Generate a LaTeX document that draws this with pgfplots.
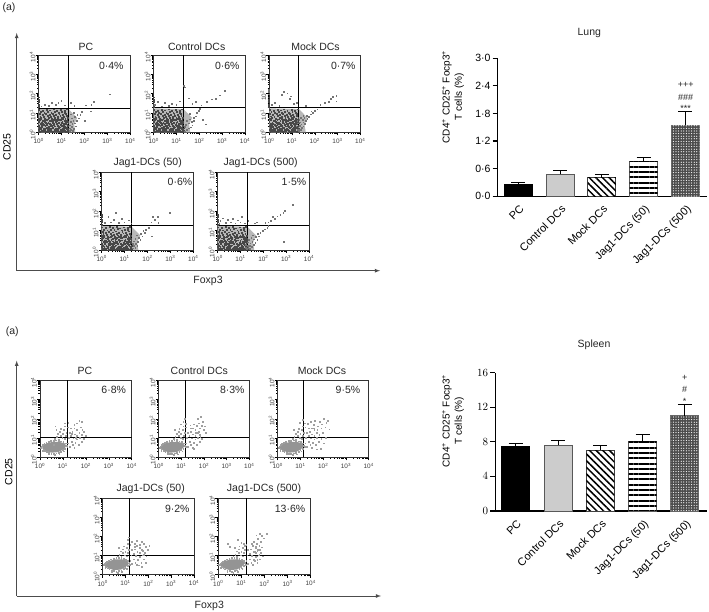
\documentclass[border=0pt]{standalone}
\usepackage{fontspec}
\setmainfont{Liberation Sans}
\usepackage{pgfplots}
\usepackage{pgfplotstable}
\pgfplotsset{compat=1.18}
\usetikzlibrary{patterns.meta}
% ---- shared dense region of the lung plots (log10 units)
\pgfplotstableread[row sep=\\]{
x y\\
.05 .03\\.18 .06\\.33 .01\\.47 .05\\.61 .02\\.74 .07\\.92 .03\\1.05 .06\\1.21 .02\\1.33 .05\\
.02 .14\\.12 .1\\.26 .15\\.4 .11\\.55 .16\\.69 .1\\.83 .14\\.98 .12\\1.12 .15\\1.27 .1\\
.07 .22\\.21 .19\\.35 .24\\.5 .2\\.63 .23\\.8 .18\\.94 .25\\1.08 .21\\1.19 .24\\1.31 .2\\
.03 .31\\.16 .28\\.3 .33\\.44 .29\\.58 .34\\.72 .3\\.88 .27\\1.01 .32\\1.15 .29\\1.29 .34\\
.09 .42\\.24 .39\\.38 .44\\.52 .38\\.67 .43\\.78 .41\\.96 .37\\1.1 .44\\1.23 .4\\
.01 .52\\.14 .48\\.28 .54\\.43 .5\\.6 .47\\.75 .53\\.9 .49\\1.04 .54\\1.18 .5\\1.3 .47\\
.06 .63\\.2 .59\\.36 .64\\.49 .58\\.65 .62\\.82 .6\\.97 .65\\1.13 .58\\1.26 .63\\
.02 .7\\.11 .74\\.29 .69\\.46 .73\\.57 .68\\.71 .75\\.86 .7\\1 .74\\1.17 .69\\1.28 .73\\
.08 .82\\.23 .79\\.39 .84\\.54 .78\\.68 .83\\.84 .8\\.95 .85\\1.09 .79\\1.22 .83\\
.04 .93\\.17 .89\\.33 .94\\.48 .9\\.62 .95\\.77 .88\\.91 .93\\1.06 .89\\1.2 .95\\
.1 1.04\\.25 1\\.41 1.05\\.56 1.01\\.7 1.06\\.87 1\\1.02 1.05\\1.16 1.01\\
.03 1.16\\.19 1.12\\.37 1.17\\.51 1.13\\.66 1.18\\.8 1.11\\.99 1.16\\1.14 1.12\\1.25 1.18\\
.12 .05\\.26 .08\\.4 .03\\.54 .07\\.68 .04\\.85 .06\\1 .02\\1.14 .07\\1.27 .03\\
.1 .18\\.3 .2\\.46 .17\\.6 .21\\.76 .16\\.9 .2\\1.04 .17\\1.24 .18\\
.13 .34\\.36 .35\\.52 .33\\.68 .36\\.84 .32\\.99 .35\\1.12 .34\\1.26 .28\\
.18 .45\\.33 .47\\.48 .44\\.62 .54\\.82 .45\\1 .46\\1.14 .4\\1.27 .55\\
.1 .66\\.27 .62\\.42 .66\\.58 .6\\.74 .65\\.9 .63\\1.05 .67\\1.2 .6\\
0 1.3\\0 1.42\\0 1.55\\0 1.68\\0 1.8\\
}\coreA
\pgfplotstableread[row sep=\\]{
x y\\
1.36 .05\\1.42 .12\\1.5 .08\\1.38 .2\\1.46 .27\\1.55 .18\\1.62 .3\\1.37 .35\\1.48 .42\\1.6 .46\\1.41 .55\\1.52 .6\\1.68 .58\\1.75 .72\\1.45 .72\\1.6 .8\\1.7 .9\\1.82 .88\\1.4 .92\\1.55 1\\1.9 1.05\\
.12 1.33\\.27 1.42\\.45 1.36\\.58 1.5\\.74 1.4\\.86 1.52\\1 1.62\\1.16 1.38\\1.42 1.5\\1.56 1.35\\2.02 .6\\2.28 1.08\\2.3 1.4\\2.4 1.55\\3.1 1.95\\2.05 1.38\\
}\pPC
\pgfplotstableread[row sep=\\]{
x y\\
1.36 .04\\1.45 .11\\1.55 .2\\1.38 .28\\1.62 .25\\1.7 .35\\1.42 .38\\1.55 .45\\1.68 .52\\1.78 .6\\1.45 .6\\1.6 .66\\1.75 .75\\1.86 .82\\1.9 1\\1.98 1.1\\1.6 .95\\2.3 .4\\2.15 .62\\2.02 1.2\\
.05 1.42\\.2 1.55\\.35 1.33\\.5 1.52\\.66 1.36\\.8 1.48\\1 1.42\\1.16 1.6\\1.33 2.4\\1.38 2.32\\1.55 1.75\\1.7 1.45\\1.85 1.55\\2.1 1.38\\2.35 1.58\\2.55 1.7\\2.72 1.72\\2.9 1.9\\3.12 2.15\\
}\pCtrl
\pgfplotstableread[row sep=\\]{
x y\\
1.3 .05\\1.34 .15\\1.25 .1\\1.28 .25\\1.36 .32\\1.2 .3\\1.4 .12\\1.45 .22\\1.5 .3\\1.42 .4\\1.36 .5\\1.5 .5\\1.58 .42\\1.6 .6\\1.48 .62\\1.68 .68\\1.55 .74\\1.75 .8\\1.65 .86\\1.82 .92\\1.92 1\\1.85 1.08\\2 1.12\\2.12 1.18\\1.25 .45\\1.33 .65\\1.24 .6\\1.4 .75\\1.5 .86\\
0 1.95\\0 2.1\\0 2.2\\.12 1.4\\.25 1.52\\.45 1.35\\.55 1.92\\.66 2.1\\.8 2\\.9 1.72\\.95 1.85\\1.1 1.45\\1.22 1.5\\1.6 1.36\\2.25 1.4\\2.45 1.52\\2.62 1.58\\2.72 1.72\\2.8 1.82\\2.95 1.88\\2.95 1.6\\
}\pMock
\pgfplotstableread[row sep=\\]{
x y\\
1.36 .08\\1.42 .2\\1.48 .12\\1.38 .32\\1.5 .3\\1.56 .22\\1.42 .44\\1.58 .42\\1.7 .5\\1.48 .58\\1.62 .62\\1.78 .7\\1.55 .74\\1.72 .82\\1.88 .86\\1.82 .98\\1.95 1.02\\2.06 1.12\\2.2 .7\\
.15 1.4\\.3 1.7\\.4 1.42\\.55 1.55\\.62 1.9\\.75 1.38\\.9 1.6\\1 1.42\\1.18 1.52\\1.3 1.36\\2.18 1.42\\2.25 1.7\\2.32 1.55\\2.45 1.68\\2.48 1.4\\2.98 1.9\\
}\pJa
\pgfplotstableread[row sep=\\]{
x y\\
1.28 .04\\1.35 .1\\1.24 .12\\1.42 .06\\1.32 .2\\1.25 .26\\1.4 .22\\1.5 .14\\1.58 .25\\1.44 .34\\1.32 .38\\1.52 .42\\1.66 .36\\1.38 .5\\1.6 .54\\1.74 .52\\1.48 .62\\1.68 .66\\1.8 .7\\1.55 .74\\1.75 .84\\1.88 .86\\1.98 .96\\2.08 1.05\\2.18 1.12\\2.22 1.22\\2.9 .42\\
.08 1.34\\.12 1.5\\.22 1.62\\.35 1.38\\.46 1.55\\.58 1.42\\.68 1.6\\.78 1.36\\.88 1.52\\1 1.42\\1.08 1.68\\1.2 1.36\\1.35 1.5\\1.62 1.36\\1.72 1.42\\2.1 1.38\\2.22 1.42\\2.32 1.5\\2.42 1.68\\2.5 1.58\\2.62 1.72\\2.75 1.8\\2.88 1.9\\2.95 2\\3.3 2.3\\
}\pJb
% ---- shared dense region of the spleen plots
\pgfplotstableread[row sep=\\]{
x y\\
.06 .48\\.1 .56\\.16 .4\\.14 .62\\.22 .32\\.2 .68\\.3 .27\\.28 .74\\.4 .22\\.38 .8\\.5 .18\\.48 .84\\.6 .16\\.6 .86\\.72 .2\\.7 .87\\.82 .22\\.82 .83\\.92 .28\\.92 .82\\1 .36\\1.02 .78\\1.1 .44\\1.12 .72\\1.17 .6\\1.2 .52\\.03 .5\\.4 .14\\.66 .1\\.85 .15\\1.05 .3\\.12 .34\\
.66 .95\\.74 1.05\\.82 .92\\.9 1.12\\.98 1\\.8 1.22\\.88 1.32\\1 1.2\\1.08 .95\\1.12 1.12\\.92 1.48\\1.06 1.4\\1.16 1.28\\1.22 1.55\\.72 1.4\\1.1 1.6\\
1.22 .72\\1.3 .55\\1.38 .8\\1.44 .62\\1.5 .5\\1.26 1\\1.36 1.1\\1.46 .98\\1.55 .75\\1.62 .92\\1.7 .62\\1.3 1.28\\1.42 1.32\\1.52 1.18\\1.62 1.12\\1.74 1\\1.82 .8\\1.5 1.5\\1.62 1.4\\1.72 1.28\\1.84 1.15\\1.92 .95\\
}\coreB
\pgfplotstableread[row sep=\\]{
x y\\
1.35 1.5\\1.5 1.68\\1.62 1.75\\1.78 1.55\\1.85 1.42\\1.72 1.9\\1.84 1.85\\1.92 1.3\\2 1.12\\.6 .62\\1.4 1.22\\1.58 1.02\\.68 1.6\\1.24 1.8\\1.1 1.75\\
}\sPC
\pgfplotstableread[row sep=\\]{
x y\\
1.1 1.85\\1 1.7\\1.22 1.72\\1.15 2\\1.4 1.65\\1.55 1.7\\1.68 1.62\\1.78 1.75\\1.82 1.5\\1.9 1.62\\1.95 1.85\\2 1.4\\2.05 1.6\\1.88 2.1\\1.72 2\\2.1 1.25\\1.85 1.05\\1.55 .42\\1.42 1.5\\1.64 1.25\\1.78 1.32\\
}\sCtrl
\pgfplotstableread[row sep=\\]{
x y\\
.98 1.8\\1.1 1.95\\1.2 1.75\\1.32 1.72\\1.45 1.85\\1.58 1.68\\1.65 1.9\\1.78 1.6\\1.85 1.82\\1.95 1.7\\2.02 2\\2.1 1.55\\2.15 1.8\\2.2 1.9\\2.28 1.45\\2 1.25\\2.12 1.02\\2.05 .72\\1.9 .45\\1.72 .4\\1.38 1.5\\1.6 1.5\\1.75 1.4\\1.92 1.5\\
}\sMock
\pgfplotstableread[row sep=\\]{
x y\\
1.1 1.82\\1.3 1.7\\1.42 1.62\\1.5 1.78\\1.62 1.55\\1.72 1.72\\1.82 1.6\\1.9 1.45\\2 1.3\\1.78 1.25\\1.6 .48\\1.72 .42\\1.9 .6\\1.15 1.95\\1.82 1.05\\2.05 1.5\\1.4 1.45\\
}\sJa
\pgfplotstableread[row sep=\\]{
x y\\
.42 1.6\\.5 1.45\\.85 1.8\\1 1.65\\1.15 1.5\\1.45 1.62\\1.55 1.72\\1.62 1.45\\1.68 1.6\\1.72 1.85\\1.78 1.52\\1.85 1.72\\1.65 2.05\\1.8 2.12\\1.9 2.02\\1.98 1.9\\2.1 2.15\\1.7 1.25\\1.8 1.3\\1.88 1.42\\1.58 1.18\\1.68 .95\\1.58 .72\\1.7 .75\\1.78 1.05\\
}\sJb
\pgfplotsset{
 flow/.style={
  scale only axis,anchor=south west,xmin=0,xmax=4,ymin=0,ymax=4,
  xtick={0,1,2,3,4},ytick={0,1,2,3,4},
  xticklabels={10\textsuperscript{0},10\textsuperscript{1},10\textsuperscript{2},10\textsuperscript{3},10\textsuperscript{4}},
  yticklabels={10\textsuperscript{0},10\textsuperscript{1},10\textsuperscript{2},10\textsuperscript{3},10\textsuperscript{4}},
  minor xtick={.301,.477,.602,.699,.778,.845,.903,.954,1.301,1.477,1.602,1.699,1.778,1.845,1.903,1.954,2.301,2.477,2.602,2.699,2.778,2.845,2.903,2.954,3.301,3.477,3.602,3.699,3.778,3.845,3.903,3.954},
  minor ytick={.301,.477,.602,.699,.778,.845,.903,.954,1.301,1.477,1.602,1.699,1.778,1.845,1.903,1.954,2.301,2.477,2.602,2.699,2.778,2.845,2.903,2.954,3.301,3.477,3.602,3.699,3.778,3.845,3.903,3.954},
  tick pos=left,tick align=outside,major tick length=3pt,minor tick length=1.6pt,
  every tick/.style={black,line width=.5pt},
  tick label style={font=\fontsize{6.4}{7}\selectfont,text=black!75,inner sep=0pt},
  xticklabel style={yshift=-2.5pt},
  yticklabel style={rotate=90,anchor=south,xshift=-2pt},
  axis line style={black!80,line width=.9pt},
  clip=true},
 lungdot/.style={only marks,mark=square*,mark size=.42pt,mark options={draw=black!72,fill=black!72,line width=0pt}},
 lungfine/.style={only marks,mark=square*,mark size=.36pt,mark options={draw=black!55,fill=black!55,line width=0pt}},
 spldot/.style={only marks,mark=square*,mark size=.38pt,mark options={draw=black!38,fill=black!38,line width=0pt}},
 bchart/.style={scale only axis,anchor=south west,clip=false,axis x line*=bottom,axis y line*=left,
  ymin=0,xtick={0,1,2,3,4},
  xticklabels={PC,Control DCs,Mock DCs,Jag1-DCs (50),Jag1-DCs (500)},
  xticklabel style={rotate=45,anchor=north east,font=\fontsize{11}{12}\selectfont,inner sep=1.5pt,yshift=-1pt},
  yticklabel style={font=\fontsize{10.5}{12}\selectfont,inner sep=2pt},
  axis line style={black,line width=1.5pt,-},
  xtick style={draw=none},ytick style={black,line width=1.2pt},major tick length=5pt,tick align=outside},
 bb/.style={ybar,bar shift=0pt,bar width=28pt,line width=.9pt},
 eb/.style={error bars/.cd,y dir=plus,y explicit,error bar style={black,line width=1pt},
  error mark options={rotate=90,black,mark size=7pt,line width=1pt}},
}
\newcommand\Lbl[4][\fontsize{10.5}{12}\selectfont]{\pgfmathsetmacro\yy{612-#3}\node[font=#1,text=black!85,inner sep=0pt] at (#2pt,\yy pt){#4};}
% xleft ytop width height vgate hgate plots
\newcommand\Flow[7]{\pgfmathsetmacro\yb{612-#2-#4}
 \begin{axis}[flow,at={(#1pt,\yb pt)},width=#3pt,height=#4pt]
 #7
 \addplot[black,line width=.9pt] coordinates {(#5,0) (#5,4)};
 \addplot[black,line width=.9pt] coordinates {(0,#6) (4,#6)};
 \end{axis}}
\newcommand\TopPlots[1]{
 \addplot[fill=black!28,draw=none] coordinates {(0,0) (1.6,0) (1.55,.4) (1.68,.75) (1.3,1.2) (0,1.24)} --cycle;
 \addplot[lungdot] table {\coreA};
 \addplot[lungfine] table {#1};}
\newcommand\LowPlots[1]{
 \addplot[fill=black!42,draw=none] coordinates {(.1,.46) (.28,.32) (.5,.24) (.8,.27) (1,.4) (1.15,.58) (1.08,.72) (.85,.8) (.55,.8) (.28,.72) (.1,.6)} --cycle;
 \addplot[spldot] table {\coreB};
 \addplot[spldot] table {#1};}
\begin{document}
\begin{tikzpicture}[x=1pt,y=1pt]
\path[use as bounding box] (0,0) rectangle (709pt,612pt);
% ---------- top flow panels
\Flow{38.7}{55}{91.6}{77.3}{1.29}{1.24}{\TopPlots{\pPC}}
\Flow{153.7}{55}{91.3}{77.3}{1.3}{1.27}{\TopPlots{\pCtrl}}
\Flow{269.3}{55}{91}{77.3}{1.29}{1.27}{\TopPlots{\pMock}}
\Flow{101.7}{172.3}{91.6}{77.7}{1.31}{1.25}{\TopPlots{\pJa}}
\Flow{217.7}{172.3}{91.3}{77.7}{1.31}{1.25}{\TopPlots{\pJb}}
% ---------- bottom flow panels
\Flow{40}{380.3}{91.7}{77}{1.19}{1.04}{\LowPlots{\sPC}}
\Flow{158.7}{380.3}{90.6}{77}{1.16}{1.05}{\LowPlots{\sCtrl}}
\Flow{277.7}{380.3}{91}{77}{1.15}{1.05}{\LowPlots{\sMock}}
\Flow{102.7}{498.3}{91.3}{76.4}{1.17}{1.03}{\LowPlots{\sJa}}
\Flow{218.3}{498.3}{92.4}{76.4}{1.23}{1.03}{\LowPlots{\sJb}}
% ---------- big L axes
\draw[black!70,line width=.8pt,-latex] (16.7pt,341.3pt) -- (16.7pt,579pt);
\draw[black!70,line width=.8pt,-latex] (16.7pt,341.3pt) -- (380pt,341.3pt);
\draw[black!70,line width=.8pt,-latex] (16.7pt,16pt) -- (16.7pt,251.3pt);
\draw[black!70,line width=.8pt,-latex] (16.7pt,16pt) -- (381pt,16pt);
% ---------- texts
\Lbl{9}{8}{(a)} \Lbl{12.3}{332}{(a)}
\Lbl{86}{46.7}{PC} \Lbl{196.7}{46.7}{Control DCs} \Lbl{315.5}{46.7}{Mock DCs}
\Lbl{147.7}{163}{Jag1-DCs (50)} \Lbl{260.7}{163}{Jag1-DCs (500)}
\Lbl{111.3}{66}{0·4\%} \Lbl{227.3}{66}{0·6\%} \Lbl{343.3}{66}{0·7\%}
\Lbl{180}{181.7}{0·6\%} \Lbl{294}{181.7}{1·5\%}
\Lbl{85}{371}{PC} \Lbl{199.3}{371}{Control DCs} \Lbl{322}{371}{Mock DCs}
\Lbl{150.7}{488.3}{Jag1-DCs (50)} \Lbl{264}{488.3}{Jag1-DCs (500)}
\Lbl{113.7}{390.3}{6·8\%} \Lbl{232.3}{390.3}{8·3\%} \Lbl{348}{390.3}{9·5\%}
\Lbl{177.3}{509.3}{9·2\%} \Lbl{290}{509.3}{13·6\%}
\Lbl{208}{281}{Foxp3} \Lbl{209.3}{606}{Foxp3}
\node[rotate=90,font=\fontsize{10.5}{12}\selectfont,inner sep=0pt] at (7pt,465pt){CD25};
\node[rotate=90,font=\fontsize{10.5}{12}\selectfont,inner sep=0pt] at (8.7pt,140.3pt){CD25};
\Lbl{589.3}{32.7}{Lung} \Lbl{594}{344.3}{Spleen}
\node[rotate=90,align=center,font=\fontsize{10}{12.3}\selectfont,inner sep=0pt] at (453pt,515pt){CD4\textsuperscript{+} CD25\textsuperscript{+} Focp3\textsuperscript{+}\\T cells (\%)};
\node[rotate=90,align=center,font=\fontsize{10}{12.3}\selectfont,inner sep=0pt] at (453pt,191pt){CD4\textsuperscript{+} CD25\textsuperscript{+} Focp3\textsuperscript{+}\\T cells (\%)};
\Lbl[\fontsize{9}{10}\selectfont]{685.7}{85}{+++}
\Lbl[\fontsize{9}{10}\selectfont]{685.7}{97}{\#\#\#}
\Lbl[\fontsize{9}{10}\selectfont]{685.7}{108}{***}
\Lbl[\fontsize{9}{10}\selectfont]{684.7}{378}{+}
\Lbl[\fontsize{9}{10}\selectfont]{684.7}{389.7}{\#}
\Lbl[\fontsize{9}{10}\selectfont]{684.7}{401}{*}
% ---------- Lung
\begin{axis}[bchart,at={(497.7pt,415.7pt)},width=209.6pt,height=138pt,
 xmin=-.493,xmax=4.527,ymax=3,ytick={0,.6,1.2,1.8,2.4,3},
 yticklabels={0·0,0·6,1·2,1·8,2·4,3·0}]
\addplot[bb,draw=black,fill=black,eb] coordinates {(0,.268) +- (0,.036)};
\addplot[bb,draw=black!65,fill=black!20,eb] coordinates {(1,.478) +- (0,.08)};
\addplot[bb,draw=black!75,fill=white,eb] coordinates {(2,.406) +- (0,.064)};
\addplot[bb,draw=none,pattern={Lines[angle=-45,distance=4.7pt,line width=1.5pt]},pattern color=black] coordinates {(2,.406)};
\addplot[bb,draw=black!65,fill=white,eb] coordinates {(3,.76) +- (0,.073)};
\addplot[bb,draw=none,pattern={Lines[angle=0,distance=5.3pt,line width=2pt]},pattern color=black] coordinates {(3,.76)};
\addplot[bb,draw=black!60,fill=black!70,eb] coordinates {(4,1.543) +- (0,.297)};
\addplot[bb,draw=none,pattern={Dots[distance=2.6pt,radius=.62pt]},pattern color=white] coordinates {(4,1.543)};
\end{axis}
% ---------- Spleen
\begin{axis}[bchart,at={(495.3pt,101pt)},width=211.4pt,height=138.3pt,
 xmin=-.482,xmax=4.515,ymax=16,ytick={0,4,8,12,16}]
\addplot[bb,draw=black,fill=black,eb] coordinates {(0,7.44) +- (0,.42)};
\addplot[bb,draw=black!65,fill=black!20,eb] coordinates {(1,7.6) +- (0,.57)};
\addplot[bb,draw=black!75,fill=white,eb] coordinates {(2,7.02) +- (0,.5)};
\addplot[bb,draw=none,pattern={Lines[angle=-45,distance=4.7pt,line width=1.5pt]},pattern color=black] coordinates {(2,7.02)};
\addplot[bb,draw=black!65,fill=white,eb] coordinates {(3,8.1) +- (0,.73)};
\addplot[bb,draw=none,pattern={Lines[angle=0,distance=5.3pt,line width=2pt]},pattern color=black] coordinates {(3,8.1)};
\addplot[bb,draw=black!60,fill=black!70,eb] coordinates {(4,11.03) +- (0,1.27)};
\addplot[bb,draw=none,pattern={Dots[distance=2.6pt,radius=.62pt]},pattern color=white] coordinates {(4,11.03)};
\end{axis}
\end{tikzpicture}
\end{document}
